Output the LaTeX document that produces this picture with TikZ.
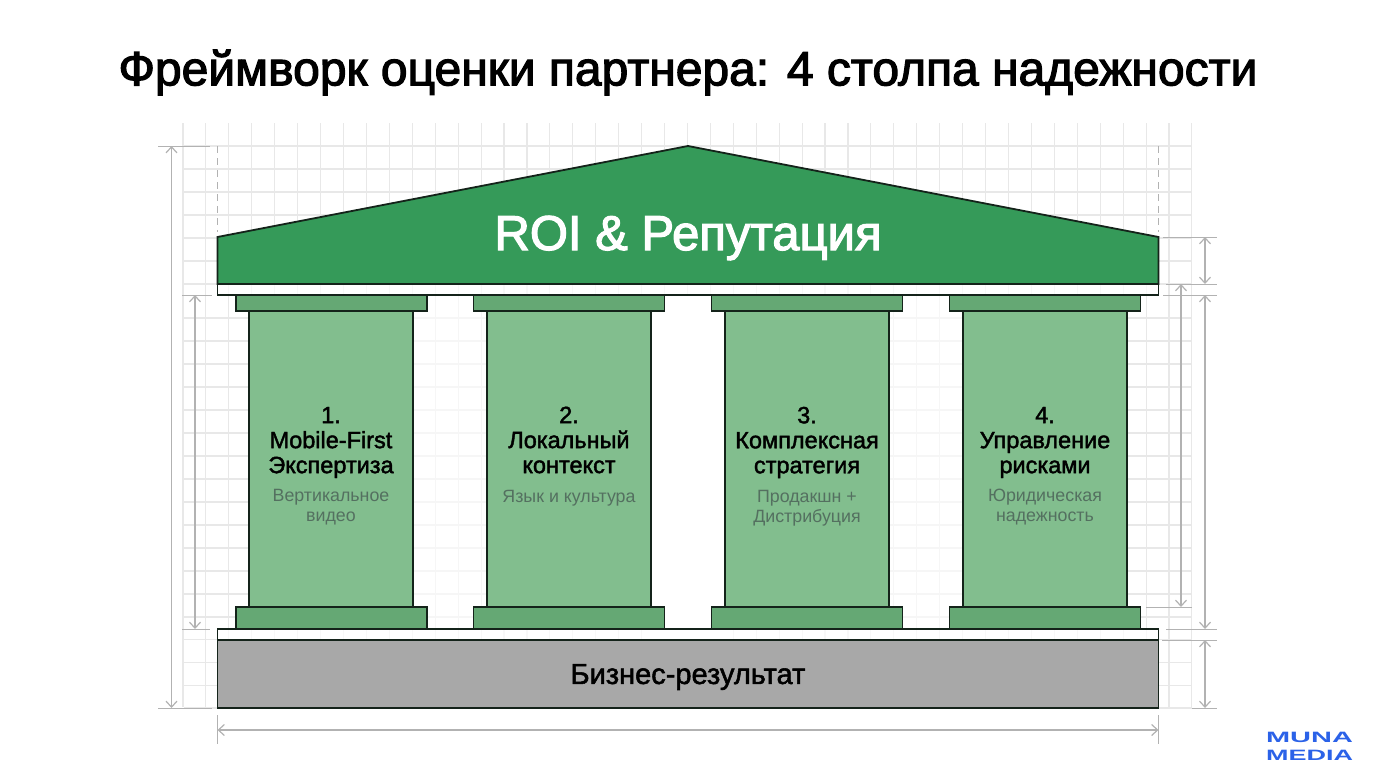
\documentclass[tikz,border=0pt]{standalone}
\usepackage{xcolor}
\usepackage{fontspec}
\usetikzlibrary{arrows.meta}
\setmainfont{Liberation Sans}
\newfontfamily\medfont{Liberation Sans}[FakeBold=2.4]
\newfontfamily\lightmed{Liberation Sans}[FakeBold=1.8]
\definecolor{roofgreen}{HTML}{359A59}
\definecolor{shaftgreen}{HTML}{82BE8E}
\definecolor{capgreen}{HTML}{65A874}
\definecolor{basegray}{HTML}{A8A8A8}
\definecolor{edgedark}{HTML}{14231A}
\definecolor{gridgray}{HTML}{E8E8E8}
\definecolor{dimgray}{HTML}{B2B2B2}
\definecolor{subgray}{HTML}{547060}
\definecolor{logoblue}{HTML}{2B62E8}
\tikzset{
  gridline/.style={color=gridgray, line width=1.1pt},
  dimline/.style={color=dimgray, line width=1.2pt, {Straight Barb[length=6pt,width=11pt]}-{Straight Barb[length=6pt,width=11pt]}},
  dimtick/.style={color=dimgray, line width=1pt},
  dimdash/.style={color=dimgray, line width=1pt, dash pattern=on 7pt off 5pt},
  outline/.style={color=edgedark, line width=1.8pt},
  shaftbox/.style={draw=edgedark, fill=shaftgreen, line width=1.8pt, minimum width=164pt, minimum height=296pt, inner sep=0pt, outer sep=0pt},
  capbox/.style={draw=edgedark, fill=capgreen, line width=1.8pt, minimum width=191pt, minimum height=16pt, inner sep=0pt, outer sep=0pt},
  footbox/.style={draw=edgedark, fill=capgreen, line width=1.8pt, minimum width=191pt, minimum height=22pt, inner sep=0pt, outer sep=0pt},
  headlabel/.style={align=center, inner sep=0pt, text=black, font=\lightmed\fontsize{23.5}{25}\selectfont},
  sublabel/.style={align=center, inner sep=0pt, text=subgray, font=\fontsize{17.8}{20}\selectfont}
}
\begin{document}
\begin{tikzpicture}[x=1pt,y=1pt]
        \useasboundingbox (0,-768) rectangle (1376,0);
        % background grid
        \draw[gridline,shift={(183,-708)},xstep=22.93,ystep=5000] (0,1) grid (1009,585);
        \draw[gridline,shift={(183,-284)},xstep=5000,ystep=23] (1,0) grid (1009,138);
        \draw[gridline,shift={(183,-617)},xstep=5000,ystep=23] (1,0) grid (1009,299);
        \draw[gridline,shift={(183,-708)},xstep=5000,ystep=22.7] (1,0) grid (1009,69);
        % gaps between the pillars
        \fill[white,opacity=.65] (413,-629) rectangle (487,-295);
        \fill[white,opacity=.65] (889,-629) rectangle (963,-295);
        \fill[white] (651,-640) rectangle (725,-295);
        % title
        \node[font=\medfont\fontsize{48}{54}\selectfont, inner sep=0pt] (title) at (688,-72.5) {Фреймворк оценки партнера: 4 столпа надежности};
        % roof
        \draw[outline, fill=white, fill opacity=.7] (217.5,-295) rectangle (1158.5,-284);
        \draw[outline, fill=roofgreen] (217.5,-284) -- (217.5,-237) -- (688,-146) -- (1158.5,-237) -- (1158.5,-284) -- cycle;
        \node[font=\medfont\fontsize{49}{54}\selectfont, text=white, inner sep=0pt] (roof) at (688,-238) {ROI \& Репутация};
        % ground
        \draw[outline, fill=white, fill opacity=.7] (217.5,-640) rectangle (1158.5,-629);
        \node[draw=edgedark, fill=basegray, line width=1.8pt, minimum width=941pt, minimum height=68pt, inner sep=0pt, outer sep=0pt] (ground) at (688,-674) {};
        \node[font=\lightmed\fontsize{29}{30}\selectfont, inner sep=0pt] (groundtext) at (688,-677) {Бизнес-результат};
        % pillar first
        \node[shaftbox] (shaftA) at (331,-459) {};
        \node[capbox] (capA) at (331.5,-303) {};
        \node[footbox] (footA) at (331.5,-618) {};
        \node[headlabel] (headA) at (331,-442.5) {1.\\Mobile-First\\Экспертиза};
        \node[sublabel] (subA) at (331,-507) {Вертикальное\\видео};
        % pillar second
        \node[shaftbox] (shaftB) at (569,-459) {};
        \node[capbox] (capB) at (569,-303) {};
        \node[footbox] (footB) at (569,-618) {};
        \node[headlabel] (headB) at (569,-440) {2.\\Локальный\\контекст};
        \node[sublabel] (subB) at (569,-498.5) {Язык и культура};
        % pillar third
        \node[shaftbox] (shaftC) at (807,-459) {};
        \node[capbox] (capC) at (807,-303) {};
        \node[footbox] (footC) at (807,-618) {};
        \node[headlabel] (headC) at (807,-442.5) {3.\\Комплексная\\стратегия};
        \node[sublabel] (subC) at (807,-508.5) {Продакшн +\\Дистрибуция};
        % pillar fourth
        \node[shaftbox] (shaftD) at (1045,-459) {};
        \node[capbox] (capD) at (1045,-303) {};
        \node[footbox] (footD) at (1045,-618) {};
        \node[headlabel] (headD) at (1045,-442.5) {4.\\Управление\\рисками};
        \node[sublabel] (subD) at (1045,-507) {Юридическая\\надежность};
        % dimension ends
        \coordinate (leftTop) at (171.5,-146);
        \coordinate (leftBot) at (171.5,-708);
        \coordinate (innerTop) at (195,-295);
        \coordinate (innerBot) at (195,-629);
        \coordinate (roofTop) at (1205,-237);
        \coordinate (roofBot) at (1205,-284);
        \coordinate (longTop) at (1181,-284);
        \coordinate (longBot) at (1181,-607);
        \coordinate (midTop) at (1205,-295);
        \coordinate (midBot) at (1205,-629);
        \coordinate (lowTop) at (1205,-640);
        \coordinate (lowBot) at (1205,-708);
        \coordinate (wideLeft) at (217.5,-730);
        \coordinate (wideRight) at (1158.5,-730);
        % dimension lines
        \draw[dimline] (leftTop)--(leftBot);
        \draw[dimline] (innerTop)--(innerBot);
        \draw[dimline] (roofTop)--(roofBot);
        \draw[dimline] (longTop)--(longBot);
        \draw[dimline] (midTop)--(midBot);
        \draw[dimline] (lowTop)--(lowBot);
        \draw[dimline] (wideLeft)--(wideRight);
        % dimension ticks
        \draw[dimtick] (158,-146)--(210,-146);
        \draw[dimtick] (158,-708)--(212,-708);
        \draw[dimtick] (182,-295)--(212,-295);
        \draw[dimtick] (182,-629)--(210,-629);
        \draw[dimtick] (1163,-237)--(1217,-237);
        \draw[dimtick] (1166,-284)--(1217,-284);
        \draw[dimtick] (1163,-295)--(1217,-295);
        \draw[dimtick] (1146,-607)--(1192,-607);
        \draw[dimtick] (1166,-629)--(1217,-629);
        \draw[dimtick] (1162,-640)--(1217,-640);
        \draw[dimtick] (1192,-708)--(1217,-708);
        \draw[dimtick] (217.5,-715)--(217.5,-744);
        \draw[dimtick] (1158.5,-715)--(1158.5,-744);
        \draw[dimdash] (217,-146)--(217,-232);
        \draw[dimdash] (1158.5,-146)--(1158.5,-232);
        % logo
        \node[font=\bfseries\fontsize{15}{16}\selectfont, text=logoblue, inner sep=0pt, xscale=1.93, transform shape] (logoA) at (1309.5,-737) {MUNA};
        \node[font=\bfseries\fontsize{15}{16}\selectfont, text=logoblue, inner sep=0pt, xscale=1.8, transform shape] (logoB) at (1309.5,-755) {MEDIA};
    \end{tikzpicture}
\end{document}
